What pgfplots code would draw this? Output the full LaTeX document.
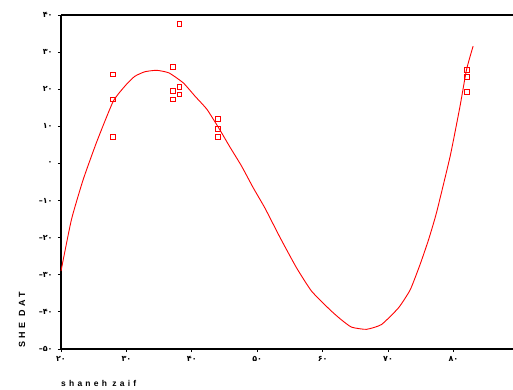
\documentclass[border=0pt]{standalone}
\usepackage{fontspec}
\setmainfont{Liberation Sans}
\newfontfamily\fa{DejaVu Sans}
\usepackage{pgfplots}
\pgfplotsset{compat=1.18}
\pgfplotstableread{
x y
20.0 -29.0
21.6 -15.1
23.4 -4.3
25.5 6.0
28.0 16.8
30.0 21.3
31.3 23.5
32.8 24.7
34.6 25.1
36.5 24.4
38.7 21.7
40.5 18.1
42.3 14.6
44.1 9.6
45.8 4.5
47.6 -0.7
49.4 -6.6
51.2 -12.1
53.5 -20.0
56.0 -28.1
58.3 -34.4
61.1 -39.4
62.7 -41.9
64.4 -44.1
66.7 -44.7
69.0 -43.4
71.6 -38.9
73.4 -34.0
74.9 -27.2
76.2 -20.5
77.4 -13.3
79.5 2.0
81.0 15.4
82.0 25.3
83.0 31.6
}\fitcurve
\pgfplotstableread{
x y
28.0 24.0
28.0 17.25
28.0 7.2
38.1 37.5
37.1 26.1
37.1 19.5
38.1 20.7
38.1 18.6
37.1 17.25
44.0 12.0
44.0 9.2
44.0 7.2
82.0 25.1
82.0 23.3
82.0 19.2
}\obs
\begin{document}
\begin{tikzpicture}
\useasboundingbox (-61bp,-41bp) rectangle (452bp,349bp);
\begin{axis}[
  scale only axis, width=452bp, height=334bp,
  xmin=20, xmax=89.1, ymin=-50, ymax=40,
  axis x line=box, axis y line=left,
  axis line style={-, line width=1.1bp, black},
  xtick={20,30,40,50,60,70,80},
  ytick={-50,-40,-30,-20,-10,0,10,20,30,40},
  xticklabels={۲۰,۳۰,۴۰,۵۰,۶۰,۷۰,۸۰},
  yticklabels={–۵۰,–۴۰,–۳۰,–۲۰,–۱۰,۰,۱۰,۲۰,۳۰,۴۰},
  tick align=outside, major tick length=3bp,
  tick style={black, line width=0.8bp},
  xtick pos=bottom, ytick pos=left,
  x tick label style={font=\fa\bfseries\fontsize{8}{9}\selectfont, yshift=-1bp},
  y tick label style={font=\fa\bfseries\fontsize{8}{9}\selectfont, xshift=-2bp},
  clip=false,
  xlabel={shaneh zaif},
  ylabel={SHE DAT},
  xlabel style={at={(axis description cs:0,-0.1108)}, anchor=base west, inner sep=0pt,
    font=\bfseries\fontsize{8.5}{9}\selectfont\addfontfeature{LetterSpace=38}},
  ylabel style={at={(axis description cs:-0.0796,0.003)}, anchor=base west, inner sep=0pt, rotate=0,
    font=\bfseries\fontsize{9}{10}\selectfont\addfontfeature{LetterSpace=38}},
]
\addplot[red, line width=0.9bp, no marks, smooth, tension=0.3] table {\fitcurve};
\addplot[red, only marks, mark=square, mark size=2.4bp, mark options={line width=0.9bp}] table {\obs};
\end{axis}
\end{tikzpicture}
\end{document}
